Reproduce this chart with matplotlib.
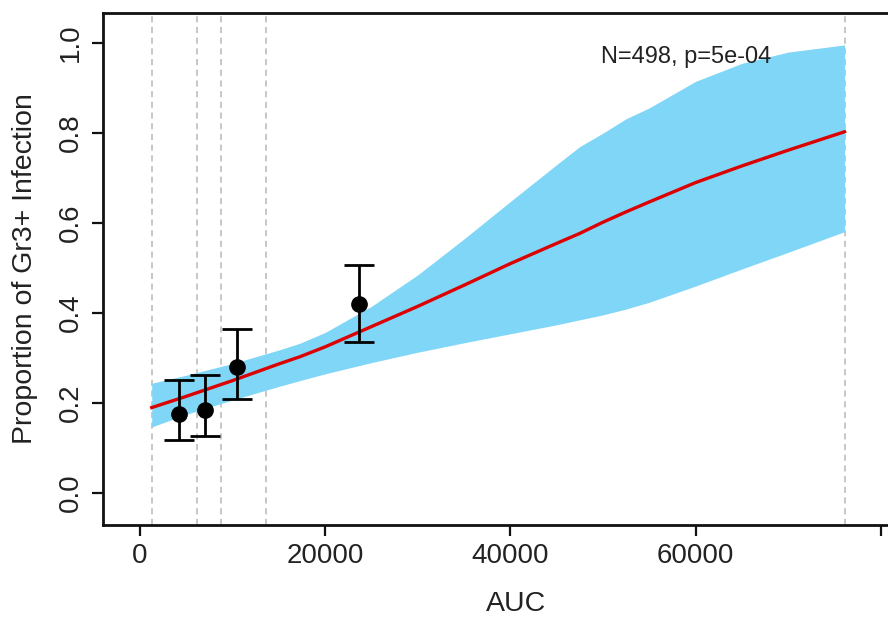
import numpy as np
import matplotlib.pyplot as plt

plt.rcParams['font.family'] = ['Liberation Sans', 'DejaVu Sans']

# fitted curve and 95% band
fit_x = [1263, 5000, 10000, 15000, 17270, 20000, 25000, 30000, 35000, 40000,
         45000, 47490, 50000, 52500, 55000, 60000, 65000, 70000, 76093]
fit_y = [0.19, 0.215, 0.25, 0.287, 0.303, 0.325, 0.37, 0.415, 0.462, 0.51,
         0.555, 0.577, 0.602, 0.625, 0.647, 0.69, 0.727, 0.762, 0.803]
band_hi = [0.244, 0.262, 0.288, 0.318, 0.333, 0.357, 0.415, 0.485, 0.565, 0.648,
           0.73, 0.77, 0.80, 0.832, 0.856, 0.915, 0.955, 0.98, 0.996]
band_lo = [0.147, 0.175, 0.207, 0.237, 0.25, 0.265, 0.29, 0.313, 0.334, 0.354,
           0.374, 0.385, 0.396, 0.409, 0.424, 0.46, 0.498, 0.535, 0.581]

# binned observed proportions with error bars
obs_x = [4210, 7016, 10505, 23670]
obs_y = [0.175, 0.184, 0.281, 0.42]
obs_lo = [0.119, 0.127, 0.209, 0.335]
obs_hi = [0.252, 0.262, 0.364, 0.506]

# bin boundaries (quantiles)
cuts = [1263, 6152, 8710, 13567, 76093]

annot = "N=498, p=5e-04"

fig = plt.figure(figsize=(8.88, 6.21), dpi=100)
ax = fig.add_axes([0.116, 0.1546, 0.93, 0.8245])

for c in cuts:
    ax.axvline(c, color='#b8b8b8', lw=1.1, ls=(0, (4, 3)), zorder=1)

ax.fill_between(fit_x, band_lo, band_hi, color='#80d6f6', lw=0, zorder=2)
ax.plot(fit_x, fit_y, color='#dd0000', lw=2.4, zorder=3)

yerr = [np.array(obs_y) - np.array(obs_lo), np.array(obs_hi) - np.array(obs_y)]
ax.errorbar(obs_x, obs_y, yerr=yerr, fmt='o', color='black', ms=11,
            capsize=11, elinewidth=2.0, capthick=2.0, zorder=4)

ax.text(58930, 0.969, annot, ha='center', va='center', fontsize=17, color='#222222')

ax.set_xlim(-4000, 85200)
ax.set_ylim(-0.071, 1.067)
ax.set_xticks([0, 20000, 40000, 60000, 80000])
ax.set_xticklabels(['0', '20000', '40000', '60000', ''])
ax.set_yticks([0.0, 0.2, 0.4, 0.6, 0.8, 1.0])
ax.set_yticklabels(['0.0', '0.2', '0.4', '0.6', '0.8', '1.0'], rotation=90, va='center')

ax.tick_params(axis='both', length=8, width=1.6, labelsize=20, color='#111111', labelcolor='#222222')
ax.tick_params(axis='x', pad=5)
ax.tick_params(axis='y', pad=6)
for s in ax.spines.values():
    s.set_linewidth(2.0)
    s.set_color('#111111')

ax.set_xlabel('AUC', fontsize=20.5, color='#222222', labelpad=16)
ax.set_ylabel('Proportion of Gr3+ Infection', fontsize=20.5, color='#222222', labelpad=14)

fig.savefig('out.png', dpi=100)
